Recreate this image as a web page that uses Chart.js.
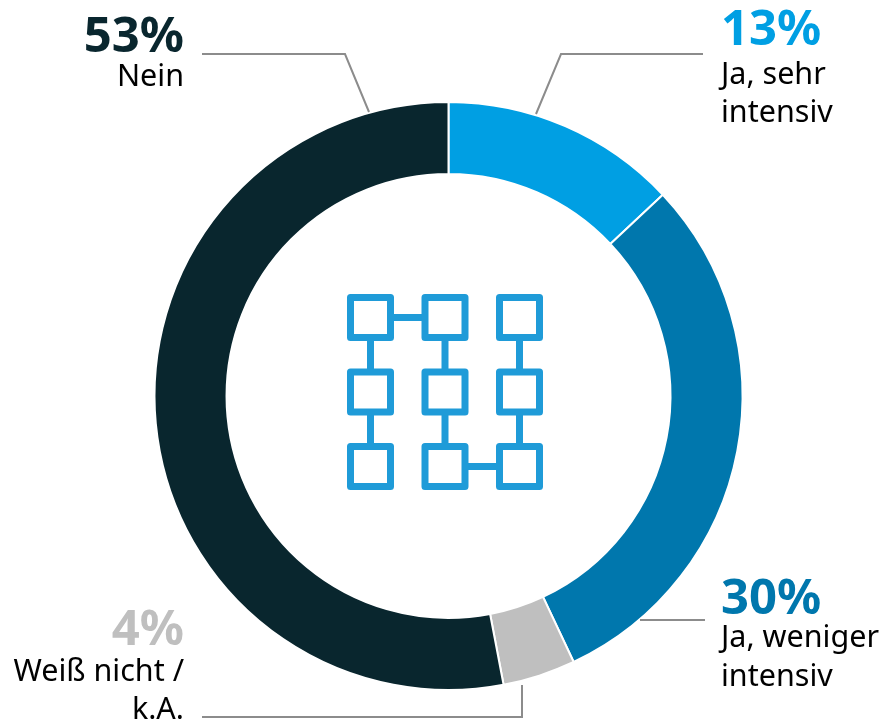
<!DOCTYPE html>
<html>
<head>
<meta charset="utf-8">
<script src="https://cdn.jsdelivr.net/npm/chart.js"></script>
<style>
  html, body { margin: 0; padding: 0; background: #fff; }
  #wrap { position: relative; width: 881px; height: 721px; }
</style>
</head>
<body>
<div id="wrap"><canvas id="myChart" width="881" height="721"></canvas></div>
<script>
const categories = ['Ja, sehr intensiv', 'Ja, weniger intensiv', 'Weiß nicht / k.A.', 'Nein'];
const shares = [13, 30, 4, 53];
const sliceColors = ['#009fe3', '#0077ad', '#bfbfbf', '#09262e'];

// label text, split per line like in the original
const percentLabels = ['13%', '30%', '4%', '53%'];
const nameLines = [['Ja, sehr', 'intensiv'], ['Ja, weniger', 'intensiv'], ['Weiß nicht /', 'k.A.'], ['Nein']];
const labelAlign = ['left', 'left', 'right', 'right'];
const labelX = [721, 721, 184, 184];
const percentY = [45, 614, 645, 52];
const nameY = [[84, 122], [647, 686], [681, 719], [86]];

// leader lines
const leaders = [
  [[703, 54], [561, 54], [536, 114]],
  [[705, 620], [640, 620]],
  [[202, 717], [522, 717], [522, 685]],
  [[202, 54], [345, 54], [369, 112]]
];

// icon grid in the middle of the ring
const iconCols = [347, 421.5, 496];
const iconRows = [294, 368.5, 443];
const iconLinks = [[0, 0, 1, 0], [1, 2, 2, 2], [0, 0, 0, 1], [0, 1, 0, 2], [1, 0, 1, 1], [1, 1, 1, 2], [2, 0, 2, 1], [2, 1, 2, 2]];

const ringExtras = {
  id: 'ringExtras',
  afterDraw(chart) {
    const ctx = chart.ctx;
    ctx.save();

    // leader lines
    ctx.strokeStyle = '#8c8c8c';
    ctx.lineWidth = 2;
    leaders.forEach((pts) => {
      ctx.beginPath();
      pts.forEach((p, i) => (i ? ctx.lineTo(p[0], p[1]) : ctx.moveTo(p[0], p[1])));
      ctx.stroke();
    });

    // icon
    const box = 40;
    const half = box / 2;
    ctx.strokeStyle = '#1f9bd8';
    ctx.lineWidth = 7;
    ctx.lineJoin = 'round';
    iconLinks.forEach(([c1, r1, c2, r2]) => {
      ctx.beginPath();
      ctx.moveTo(iconCols[c1] + 3.5 + half, iconRows[r1] + 3.5 + half);
      ctx.lineTo(iconCols[c2] + 3.5 + half, iconRows[r2] + 3.5 + half);
      ctx.stroke();
    });
    // clear the inside of the boxes, the links run through them
    iconCols.forEach((x) => iconRows.forEach((y) => {
      ctx.fillStyle = '#fff';
      ctx.fillRect(x + 3.5, y + 3.5, box, box);
      ctx.strokeRect(x + 3.5, y + 3.5, box, box);
    }));

    // labels
    ctx.textBaseline = 'alphabetic';
    percentLabels.forEach((txt, i) => {
      ctx.textAlign = labelAlign[i];
      ctx.fillStyle = sliceColors[i];
      ctx.font = 'bold 49px "Noto Sans"';
      ctx.fillText(txt, labelX[i], percentY[i]);
      ctx.fillStyle = '#000';
      ctx.font = '30.5px "Noto Sans"';
      nameLines[i].forEach((line, j) => ctx.fillText(line, labelX[i], nameY[i][j]));
    });
    ctx.restore();
  }
};

new Chart(document.getElementById('myChart'), {
  type: 'doughnut',
  data: {
    labels: categories,
    datasets: [{
      data: shares,
      backgroundColor: sliceColors,
      borderColor: '#fff',
      borderWidth: 2
    }]
  },
  options: {
    responsive: false,
    animation: false,
    cutout: '75.5%',
    layout: { padding: { left: 153.5, right: 137.5, top: 101, bottom: 30 } },
    plugins: { legend: { display: false }, tooltip: { enabled: false } }
  },
  plugins: [ringExtras]
});
</script>
</body>
</html>
